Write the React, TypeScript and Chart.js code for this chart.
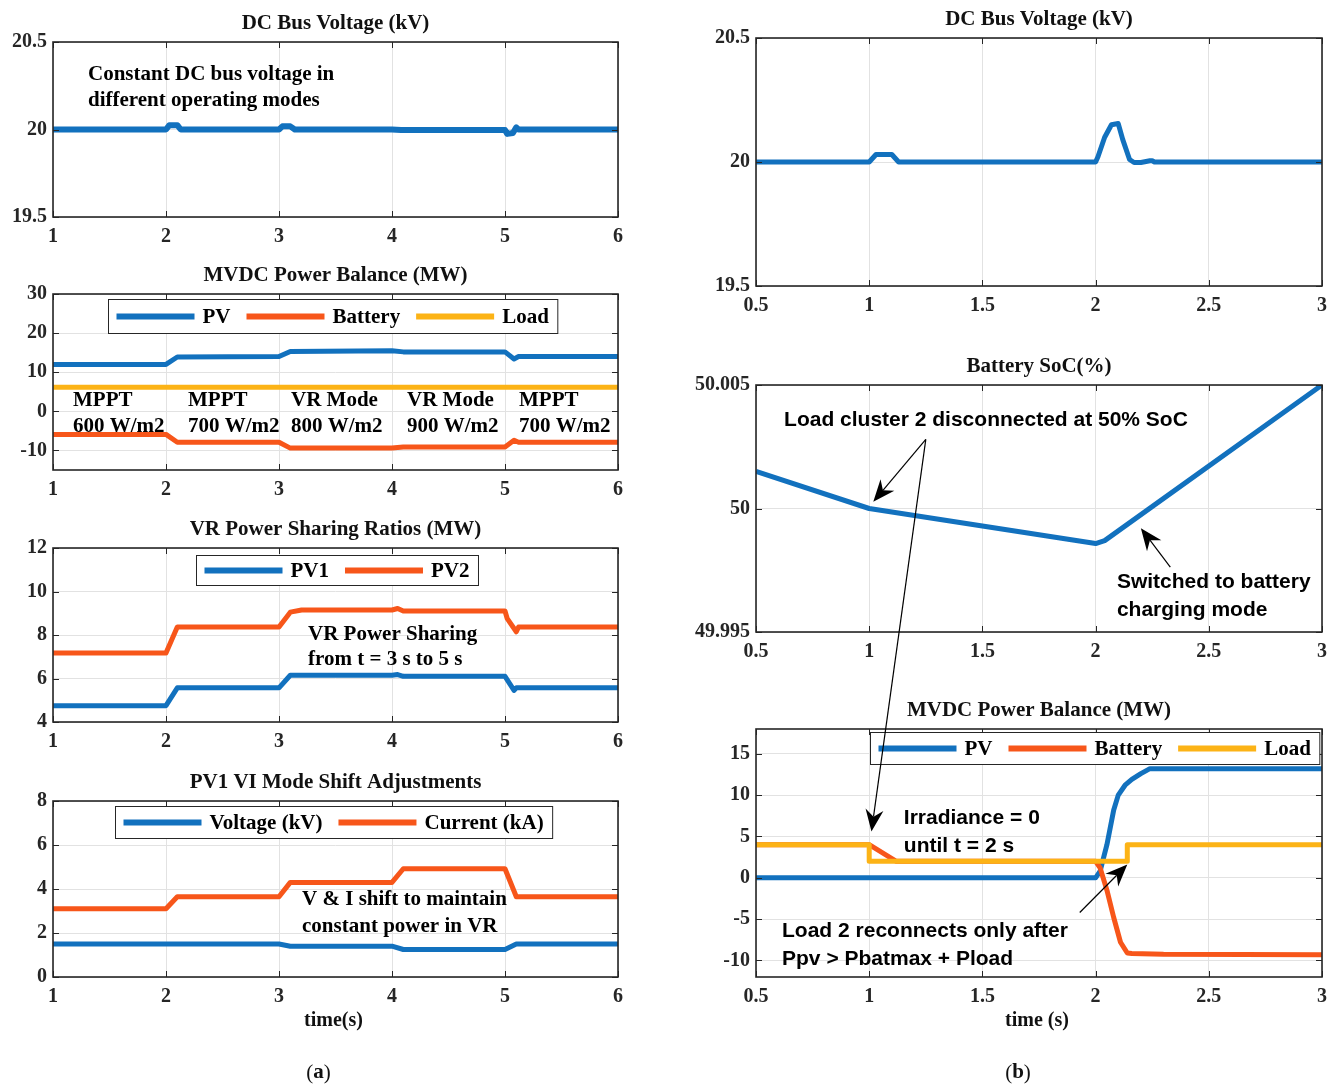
import React, { useEffect, useRef } from 'react';
import { Chart, registerables } from 'chart.js';
Chart.register(...registerables);

// ---------------- DATA ----------------
const xTicksLeft = [1, 2, 3, 4, 5, 6];
const xTicksRight = [0.5, 1, 1.5, 2, 2.5, 3];

// (a) DC bus voltage
const busA_t = [1, 2, 2.03, 2.1, 2.13, 3, 3.03, 3.1, 3.14, 4, 4.08, 5, 5.02, 5.07, 5.1, 5.12, 6];
const busA_v = [20, 20, 20.025, 20.025, 20, 20, 20.018, 20.018, 20, 20, 19.997, 19.997, 19.975, 19.98, 20.012, 20, 20];
const busA_yTicks = [19.5, 20, 20.5];

// (a) MVDC power balance
const pbA_t = [1, 2, 2.1, 3, 3.1, 4, 4.1, 5, 5.08, 5.12, 6];
const pbA_pv = [12, 12, 13.9, 14, 15.3, 15.5, 15.2, 15.2, 13.4, 14, 14];
const pbA_bat = [-5.9, -5.9, -7.9, -7.9, -9.4, -9.4, -9.1, -9.1, -7.4, -7.9, -7.9];
const pbA_load_t = [1, 6];
const pbA_load = [6.15, 6.15];
const pbA_yTicks = [-10, 0, 10, 20, 30];

// (a) VR power sharing
const vrA_pv1_t = [1, 2, 2.1, 3, 3.1, 4, 4.05, 4.1, 5, 5.08, 5.1, 6];
const vrA_pv1 = [4.75, 4.75, 5.57, 5.57, 6.15, 6.15, 6.18, 6.1, 6.1, 5.45, 5.57, 5.57];
const vrA_pv2_t = [1, 2, 2.1, 3, 3.1, 3.2, 4, 4.05, 4.1, 5, 5.02, 5.1, 5.12, 6];
const vrA_pv2 = [7.17, 7.17, 8.37, 8.37, 9.05, 9.15, 9.15, 9.22, 9.1, 9.1, 8.75, 8.15, 8.37, 8.37];
const vrA_yTicks = [4, 6, 8, 10, 12];

// (a) PV1 VI mode shift
const viA_v_t = [1, 3, 3.1, 4, 4.1, 5, 5.1, 6];
const viA_voltage = [1.5, 1.5, 1.4, 1.4, 1.25, 1.25, 1.5, 1.5];
const viA_i_t = [1, 2, 2.1, 3, 3.1, 4, 4.1, 5, 5.1, 6];
const viA_current = [3.1, 3.1, 3.65, 3.65, 4.3, 4.3, 4.92, 4.92, 3.65, 3.65];
const viA_yTicks = [0, 2, 4, 6, 8];

// (b) DC bus voltage
const busB_t = [0.5, 1.0, 1.03, 1.1, 1.13, 2.0, 2.01, 2.04, 2.07, 2.1, 2.12, 2.15, 2.17, 2.2, 2.24, 2.25, 2.26, 3];
const busB_v = [20, 20, 20.03, 20.03, 20, 20, 20.02, 20.1, 20.15, 20.155, 20.09, 20.01, 19.998, 19.998, 20.005, 20.005, 20, 20];
const busB_yTicks = [19.5, 20, 20.5];

// (b) Battery SoC
const socB_t = [0.5, 1.0, 1.5, 2.0, 2.04, 3.0];
const socB_v = [50.0015, 50.0, 49.99929, 49.99858, 49.9987, 50.005];
const socB_yTicks = [49.995, 50, 50.005];

// (b) MVDC power balance
const pbB_pv_t = [0.5, 2.0, 2.02, 2.05, 2.08, 2.1, 2.13, 2.16, 2.2, 2.24, 3];
const pbB_pv = [0, 0, 0.8, 4.0, 8.2, 10.0, 11.2, 11.9, 12.6, 13.2, 13.2];
const pbB_bat_t = [0.5, 1.0, 1.12, 2.0, 2.02, 2.05, 2.08, 2.11, 2.14, 2.16, 2.3, 3];
const pbB_bat = [4, 4, 2, 2, 1.2, -1.5, -4.8, -7.8, -9.1, -9.15, -9.25, -9.3];
const pbB_load_t = [0.5, 1.0, 1.0, 2.14, 2.14, 3];
const pbB_load = [4, 4, 2, 2, 4, 4];
const pbB_yTicks = [-10, -5, 0, 5, 10, 15];

// ---------------- STYLE ----------------
const BLUE = '#1271BE';
const ORANGE = '#F7561A';
const YELLOW = '#FCB316';
const INK = '#262626';
const SERIF = '"Liberation Serif", "Times New Roman", serif';
const SANS = '"Liberation Sans", Arial, sans-serif';

type Series = { t: number[]; v: number[]; color: string; width: number; order: number };
type Txt = { s: string; x: number; y: number; sans?: boolean };
type Arrow = { x1: number; y1: number; x2: number; y2: number };
type Panel = {
  left: number; top: number; LW: number; PT: number; PR: number; BH: number; aw: number; ah: number;
  xMin: number; xMax: number; xTicks: number[]; yMin: number; yMax: number; yTicks: number[];
  series: Series[]; title: string; xlabel?: string; sub?: string; subDx?: number;
  legend?: { x: number; y: number; h: number; items: [string, string][] };
  texts: Txt[]; arrows: Arrow[];
};

const L = { left: 0, LW: 53, PR: 18, aw: 565, xMin: 1, xMax: 6, xTicks: xTicksLeft };
const R = { left: 686, LW: 70, PR: 14, aw: 566, xMin: 0.5, xMax: 3, xTicks: xTicksRight };

const PANELS: Panel[] = [
  {
    ...L, top: 6, PT: 36, BH: 35, ah: 175, yMin: 19.5, yMax: 20.5, yTicks: busA_yTicks,
    series: [{ t: busA_t, v: busA_v, color: BLUE, width: 6, order: 1 }],
    title: 'DC Bus Voltage (kV)',
    texts: [
      { s: 'Constant DC bus voltage in', x: 1.31, y: 20.311 },
      { s: 'different operating modes', x: 1.31, y: 20.163 },
    ],
    arrows: [],
  },
  {
    ...L, top: 258, PT: 36, BH: 35, ah: 176, yMin: -15, yMax: 30, yTicks: pbA_yTicks,
    series: [
      { t: pbA_t, v: pbA_pv, color: BLUE, width: 5, order: 3 },
      { t: pbA_t, v: pbA_bat, color: ORANGE, width: 5, order: 2 },
      { t: pbA_load_t, v: pbA_load, color: YELLOW, width: 5, order: 1 },
    ],
    title: 'MVDC Power Balance (MW)',
    legend: { x: 1.487, y: 28.7, h: 34, items: [['PV', BLUE], ['Battery', ORANGE], ['Load', YELLOW]] },
    texts: [
      { s: 'MPPT', x: 1.177, y: 2.8 }, { s: '600 W/m2', x: 1.177, y: -3.85 },
      { s: 'MPPT', x: 2.195, y: 2.8 }, { s: '700 W/m2', x: 2.195, y: -3.85 },
      { s: 'VR Mode', x: 3.106, y: 2.8 }, { s: '800 W/m2', x: 3.106, y: -3.85 },
      { s: 'VR Mode', x: 4.133, y: 2.8 }, { s: '900 W/m2', x: 4.133, y: -3.85 },
      { s: 'MPPT', x: 5.124, y: 2.8 }, { s: '700 W/m2', x: 5.124, y: -3.85 },
    ],
    arrows: [],
  },
  {
    ...L, top: 512, PT: 36, BH: 35, ah: 174, yMin: 4, yMax: 12, yTicks: vrA_yTicks,
    series: [
      { t: vrA_pv1_t, v: vrA_pv1, color: BLUE, width: 5, order: 2 },
      { t: vrA_pv2_t, v: vrA_pv2, color: ORANGE, width: 5, order: 1 },
    ],
    title: 'VR Power Sharing Ratios (MW)',
    legend: { x: 2.265, y: 11.68, h: 30, items: [['PV1', BLUE], ['PV2', ORANGE]] },
    texts: [
      { s: 'VR Power Sharing', x: 3.257, y: 8.0 },
      { s: 'from t = 3 s to 5 s', x: 3.257, y: 6.85 },
    ],
    arrows: [],
  },
  {
    ...L, top: 765, PT: 36, BH: 109, ah: 176, yMin: 0, yMax: 8, yTicks: viA_yTicks,
    series: [
      { t: viA_v_t, v: viA_voltage, color: BLUE, width: 5, order: 2 },
      { t: viA_i_t, v: viA_current, color: ORANGE, width: 5, order: 1 },
    ],
    title: 'PV1 VI Mode Shift Adjustments', xlabel: 'time(s)', sub: 'a', subDx: -17,
    legend: { x: 1.549, y: 7.77, h: 32, items: [['Voltage (kV)', BLUE], ['Current (kA)', ORANGE]] },
    texts: [
      { s: 'V & I shift to maintain', x: 3.204, y: 3.5 },
      { s: 'constant power in VR', x: 3.204, y: 2.27 },
    ],
    arrows: [],
  },
  {
    ...R, top: 2, PT: 36, BH: 35, ah: 248, yMin: 19.5, yMax: 20.5, yTicks: busB_yTicks,
    series: [{ t: busB_t, v: busB_v, color: BLUE, width: 5, order: 1 }],
    title: 'DC Bus Voltage (kV)', texts: [], arrows: [],
  },
  {
    ...R, top: 349, PT: 36, BH: 35, ah: 247, yMin: 49.995, yMax: 50.005, yTicks: socB_yTicks,
    series: [{ t: socB_t, v: socB_v, color: BLUE, width: 5, order: 1 }],
    title: 'Battery SoC(%)',
    texts: [
      { s: 'Load cluster 2 disconnected at 50% SoC', x: 0.624, y: 50.00356, sans: true },
      { s: 'Switched to battery', x: 2.094, y: 49.99703, sans: true },
      { s: 'charging mode', x: 2.094, y: 49.99588, sans: true },
    ],
    arrows: [
      { x1: 1.25, y1: 50.0028, x2: 1.018, y2: 50.00027 },
      { x1: 2.33, y1: 49.99763, x2: 2.2, y2: 49.9992 },
    ],
  },
  {
    ...R, top: 693, PT: 36, BH: 109, ah: 248, yMin: -12, yMax: 18, yTicks: pbB_yTicks,
    series: [
      { t: pbB_pv_t, v: pbB_pv, color: BLUE, width: 5, order: 3 },
      { t: pbB_bat_t, v: pbB_bat, color: ORANGE, width: 5, order: 2 },
      { t: pbB_load_t, v: pbB_load, color: YELLOW, width: 5, order: 1 },
    ],
    title: 'MVDC Power Balance (MW)', xlabel: 'time (s)', sub: 'b', subDx: -21,
    legend: { x: 1.003, y: 17.67, h: 32, items: [['PV', BLUE], ['Battery', ORANGE], ['Load', YELLOW]] },
    texts: [
      { s: 'Irradiance = 0', x: 1.153, y: 7.2, sans: true },
      { s: 'until t = 2 s', x: 1.153, y: 3.85, sans: true },
      { s: 'Load 2 reconnects only after', x: 0.615, y: -6.5, sans: true },
      { s: 'Ppv > Pbatmax + Pload', x: 0.615, y: -9.85, sans: true },
    ],
    arrows: [{ x1: 1.93, y1: -4.2, x2: 2.14, y2: 1.6 }],
  },
];

// long arrow crossing from the SoC panel to the lower power-balance panel
const CROSS = { from: { panel: 5, x: 1.25, y: 50.0028 }, to: { panel: 6, x: 1.01, y: 5.6 } };

// ---------------- DRAW HELPERS ----------------
function drawArrow(ctx: CanvasRenderingContext2D, x1: number, y1: number, x2: number, y2: number) {
  const ang = Math.atan2(y2 - y1, x2 - x1);
  const c = Math.cos(ang), s = Math.sin(ang);
  const hl = 22, hw = 9, notch = 7;
  const bx = x2 - hl * c, by = y2 - hl * s;
  const nx = x2 - (hl - notch) * c, ny = y2 - (hl - notch) * s;
  ctx.save();
  ctx.strokeStyle = '#000';
  ctx.lineWidth = 1.2;
  ctx.beginPath();
  ctx.moveTo(x1, y1);
  ctx.lineTo(nx, ny);
  ctx.stroke();
  ctx.fillStyle = '#000';
  ctx.beginPath();
  ctx.moveTo(x2, y2);
  ctx.lineTo(bx - s * hw, by + c * hw);
  ctx.lineTo(nx, ny);
  ctx.lineTo(bx + s * hw, by - c * hw);
  ctx.closePath();
  ctx.fill();
  ctx.restore();
}

function makePlugin(p: Panel) {
  return {
    id: 'deco',
    afterDatasetsDraw(chart: any) {
      const ctx: CanvasRenderingContext2D = chart.ctx;
      const a = chart.chartArea;
      const xs = chart.scales.x, ys = chart.scales.y;
      ctx.save();
      // inward tick marks
      ctx.strokeStyle = INK;
      ctx.lineWidth = 1;
      ctx.beginPath();
      p.xTicks.forEach((v) => {
        const x = Math.round(xs.getPixelForValue(v)) + 0.5;
        ctx.moveTo(x, a.bottom); ctx.lineTo(x, a.bottom - 6);
        ctx.moveTo(x, a.top); ctx.lineTo(x, a.top + 6);
      });
      p.yTicks.forEach((v) => {
        const y = Math.round(ys.getPixelForValue(v)) + 0.5;
        ctx.moveTo(a.left, y); ctx.lineTo(a.left + 6, y);
        ctx.moveTo(a.right, y); ctx.lineTo(a.right - 6, y);
      });
      ctx.stroke();
      // axes box
      ctx.lineWidth = 1.6;
      ctx.strokeRect(a.left, a.top, a.right - a.left, a.bottom - a.top);

      // title
      ctx.fillStyle = '#111';
      ctx.textAlign = 'center';
      ctx.textBaseline = 'middle';
      ctx.font = `bold 21px ${SERIF}`;
      const cx = (a.left + a.right) / 2;
      ctx.fillText(p.title, cx, a.top - 18);
      if (p.xlabel) {
        ctx.font = `bold 20px ${SERIF}`;
        ctx.fillText(p.xlabel, cx - 2, a.bottom + 44);
      }
      if (p.sub) {
        const sx = cx + (p.subDx || 0);
        ctx.font = `21px ${SERIF}`;
        const wp = ctx.measureText('(').width;
        ctx.font = `bold 21px ${SERIF}`;
        const wl = ctx.measureText(p.sub).width;
        const total = wp * 2 + wl;
        const x0 = sx - total / 2;
        const y0 = a.bottom + 96;
        ctx.textAlign = 'left';
        ctx.font = `21px ${SERIF}`;
        ctx.fillText('(', x0, y0);
        ctx.font = `bold 21px ${SERIF}`;
        ctx.fillText(p.sub, x0 + wp, y0);
        ctx.font = `21px ${SERIF}`;
        ctx.fillText(')', x0 + wp + wl, y0);
      }

      // annotation texts
      ctx.textAlign = 'left';
      ctx.fillStyle = '#000';
      p.texts.forEach((t) => {
        ctx.font = t.sans ? `bold 21px ${SANS}` : `bold 21px ${SERIF}`;
        ctx.fillText(t.s, xs.getPixelForValue(t.x), ys.getPixelForValue(t.y));
      });

      // legend
      if (p.legend) {
        const lg = p.legend;
        ctx.font = `bold 21px ${SERIF}`;
        const n = lg.items.length;
        let w = 8;
        lg.items.forEach(([lab], i) => {
          w += 78 + 8 + ctx.measureText(lab).width + (i < n - 1 ? 16 : 9);
        });
        const bx = Math.round(xs.getPixelForValue(lg.x)) + 0.5;
        const by = Math.round(ys.getPixelForValue(lg.y)) + 0.5;
        ctx.fillStyle = '#fff';
        ctx.fillRect(bx, by, w, lg.h);
        ctx.strokeStyle = INK;
        ctx.lineWidth = 1;
        ctx.strokeRect(bx, by, w, lg.h);
        let x = bx + 8;
        const cy = by + lg.h / 2;
        lg.items.forEach(([lab, col]) => {
          ctx.strokeStyle = col;
          ctx.lineWidth = 6;
          ctx.beginPath();
          ctx.moveTo(x, cy);
          ctx.lineTo(x + 78, cy);
          ctx.stroke();
          x += 86;
          ctx.fillStyle = '#000';
          ctx.textBaseline = 'middle';
          ctx.fillText(lab, x, cy + 1);
          x += ctx.measureText(lab).width + 16;
        });
      }

      // arrows
      p.arrows.forEach((ar) => {
        drawArrow(ctx, xs.getPixelForValue(ar.x1), ys.getPixelForValue(ar.y1), xs.getPixelForValue(ar.x2), ys.getPixelForValue(ar.y2));
      });
      ctx.restore();
    },
  };
}

function sizeOf(p: Panel) {
  return { w: p.LW + p.aw + p.PR, h: p.PT + p.ah + p.BH };
}

function makeChart(canvas: HTMLCanvasElement, p: Panel) {
  const tickFont = { family: SERIF, weight: 'bold' as const, size: 20 };
  return new Chart(canvas, {
    type: 'line',
    data: {
      datasets: p.series.map((s) => ({
        data: s.t.map((x, i) => ({ x, y: s.v[i] })),
        borderColor: s.color,
        backgroundColor: s.color,
        borderWidth: s.width,
        pointRadius: 0,
        tension: 0,
        fill: false,
        order: s.order,
        borderJoinStyle: 'round' as const,
      })),
    },
    options: {
      animation: false,
      responsive: false,
      maintainAspectRatio: false,
      devicePixelRatio: 1,
      events: [],
      layout: { padding: { top: p.PT, right: p.PR, left: 0, bottom: 0 } },
      plugins: { legend: { display: false }, tooltip: { enabled: false }, title: { display: false } },
      scales: {
        x: {
          type: 'linear',
          min: p.xMin,
          max: p.xMax,
          afterBuildTicks: (ax: any) => { ax.ticks = p.xTicks.map((value) => ({ value })); },
          afterFit: (sc: any) => { sc.height = p.BH; },
          grid: { color: '#e2e2e2', drawTicks: false, lineWidth: 1 },
          border: { display: false },
          ticks: { font: tickFont, color: INK, padding: 8, maxRotation: 0, autoSkip: false, callback: (v: any) => String(v) },
        },
        y: {
          type: 'linear',
          min: p.yMin,
          max: p.yMax,
          afterBuildTicks: (ax: any) => { ax.ticks = p.yTicks.map((value) => ({ value })); },
          afterFit: (sc: any) => { sc.width = p.LW; },
          grid: { color: '#e2e2e2', drawTicks: false, lineWidth: 1 },
          border: { display: false },
          ticks: { font: tickFont, color: INK, padding: 6, autoSkip: false, callback: (v: any) => String(v) },
        },
      },
    },
    plugins: [makePlugin(p)],
  } as any);
}

export default function App() {
  const refs = useRef<(HTMLCanvasElement | null)[]>([]);
  const overlay = useRef<HTMLCanvasElement | null>(null);

  useEffect(() => {
    const charts = PANELS.map((p, i) => makeChart(refs.current[i] as HTMLCanvasElement, p));
    const ov = overlay.current;
    if (ov) {
      const ctx = ov.getContext('2d') as CanvasRenderingContext2D;
      ctx.clearRect(0, 0, ov.width, ov.height);
      const f = CROSS.from, t = CROSS.to;
      const cf = charts[f.panel] as any, ct = charts[t.panel] as any;
      const pf = PANELS[f.panel], pt = PANELS[t.panel];
      const x1 = pf.left + cf.scales.x.getPixelForValue(f.x);
      const y1 = pf.top + cf.scales.y.getPixelForValue(f.y);
      const x2 = pt.left + ct.scales.x.getPixelForValue(t.x);
      const y2 = pt.top + ct.scales.y.getPixelForValue(t.y);
      drawArrow(ctx, x1, y1, x2, y2);
    }
    return () => {
      charts.forEach((c) => c.destroy());
    };
  }, []);

  return (
    <div style={{ position: 'absolute', left: 0, top: 0, width: 1336, height: 1086, background: '#fff', overflow: 'hidden' }}>
      {PANELS.map((p, i) => {
        const { w, h } = sizeOf(p);
        return (
          <canvas
            key={i}
            ref={(el) => { refs.current[i] = el; }}
            width={w}
            height={h}
            style={{ position: 'absolute', left: p.left, top: p.top, width: w, height: h }}
          />
        );
      })}
      <canvas
        ref={overlay}
        width={1336}
        height={1086}
        style={{ position: 'absolute', left: 0, top: 0, width: 1336, height: 1086, pointerEvents: 'none' }}
      />
    </div>
  );
}
